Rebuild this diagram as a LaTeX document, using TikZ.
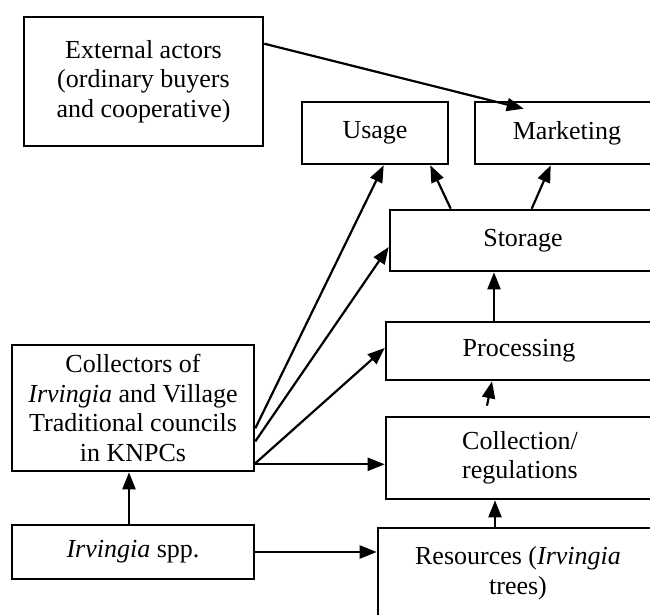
\documentclass[tikz,border=0pt]{standalone}
\usepackage{fontspec}
\setmainfont{Liberation Serif}
\usepackage{tikz}
\usetikzlibrary{arrows.meta, calc, positioning}

\begin{document}
\begin{tikzpicture}[x=1pt, y=-1pt, >={Triangle[length=17pt,width=13pt]},
    box/.style={draw, line width=2.6pt, inner sep=0pt, align=center,
        font=\fontsize{26}{29.5}\selectfont},
    link/.style={->, line width=2.2pt}]

        % Fix the frame of the picture
        \clip (0,0) rectangle (650,614);

        % Draw the actors on the left
        \node[box, minimum width=239pt, minimum height=129pt] (ext) at (143.5,81.5)
            {External actors\\(ordinary buyers\\and cooperative)};
        \node[box, minimum width=242pt, minimum height=126pt] (clt) at (133,408)
            {Collectors of\\\textit{Irvingia} and Village\\Traditional councils\\in KNPCs};
        \node[box, minimum width=242pt, minimum height=54pt] (spp) at (133,552)
            {\textit{Irvingia} spp.};

        % Draw the chain of activities on the right
        \node[box, minimum width=146pt, minimum height=62pt] (usage) at (375,133) {Usage};
        \node[box, minimum width=184pt, minimum height=62pt] (mkt) at (567,133) {Marketing};
        \node[box, minimum width=266pt, minimum height=61pt] (stor) at (523,240.5) {Storage};
        \node[box, minimum width=266pt, minimum height=58pt] (proc) at (519,351) {Processing};
        \node[box, minimum width=268pt, minimum height=82pt] (colr) at (520,458)
            {Collection/\\regulations};
        \node[box, minimum width=280pt, minimum height=90pt] (res) at (518,573)
            {Resources (\textit{Irvingia}\\trees)};

        % Arrows from the external actors and the collectors
        \draw[link] ($(ext.north east)+(0,28)$) -- ($(mkt.north west)+(50,8)$);
        \draw[link] ($(clt.south east)+(0,-44)$) -- ($(usage.south west)+(83,0)$);
        \draw[link] ($(clt.south east)+(0,-31)$) -- ($(stor.west)+(0,6.5)$);
        \draw[link] ($(clt.south east)+(0,-9)$) -- ($(proc.west)+(0,-3)$);
        \coordinate (c1) at ($(clt.south east)+(0,-8)$);
        \draw[link] (c1) -- (c1 -| colr.west);

        % Arrows from the species
        \draw[link] ($(spp.north)+(-4,0)$) -- ($(clt.south)+(-4,0)$);
        \draw[link] (spp.east) -- (spp.east -| res.west);

        % Arrows up the chain
        \coordinate (r1) at ($(res.north)+(-23,0)$);
        \draw[link] (r1) -- (r1 |- colr.south);
        \draw[link] ($(colr.north)+(-33,-10)$) -- ($(proc.south)+(-27,0)$);
        \coordinate (p1) at ($(proc.north)+(-25,0)$);
        \draw[link] (p1) -- (p1 |- stor.south);
        \draw[link] ($(stor.north west)+(62,0)$) -- ($(usage.south east)+(-19,0)$);
        \draw[link] ($(stor.north west)+(143,0)$) -- ($(mkt.south west)+(77,0)$);
    \end{tikzpicture}
\end{document}
